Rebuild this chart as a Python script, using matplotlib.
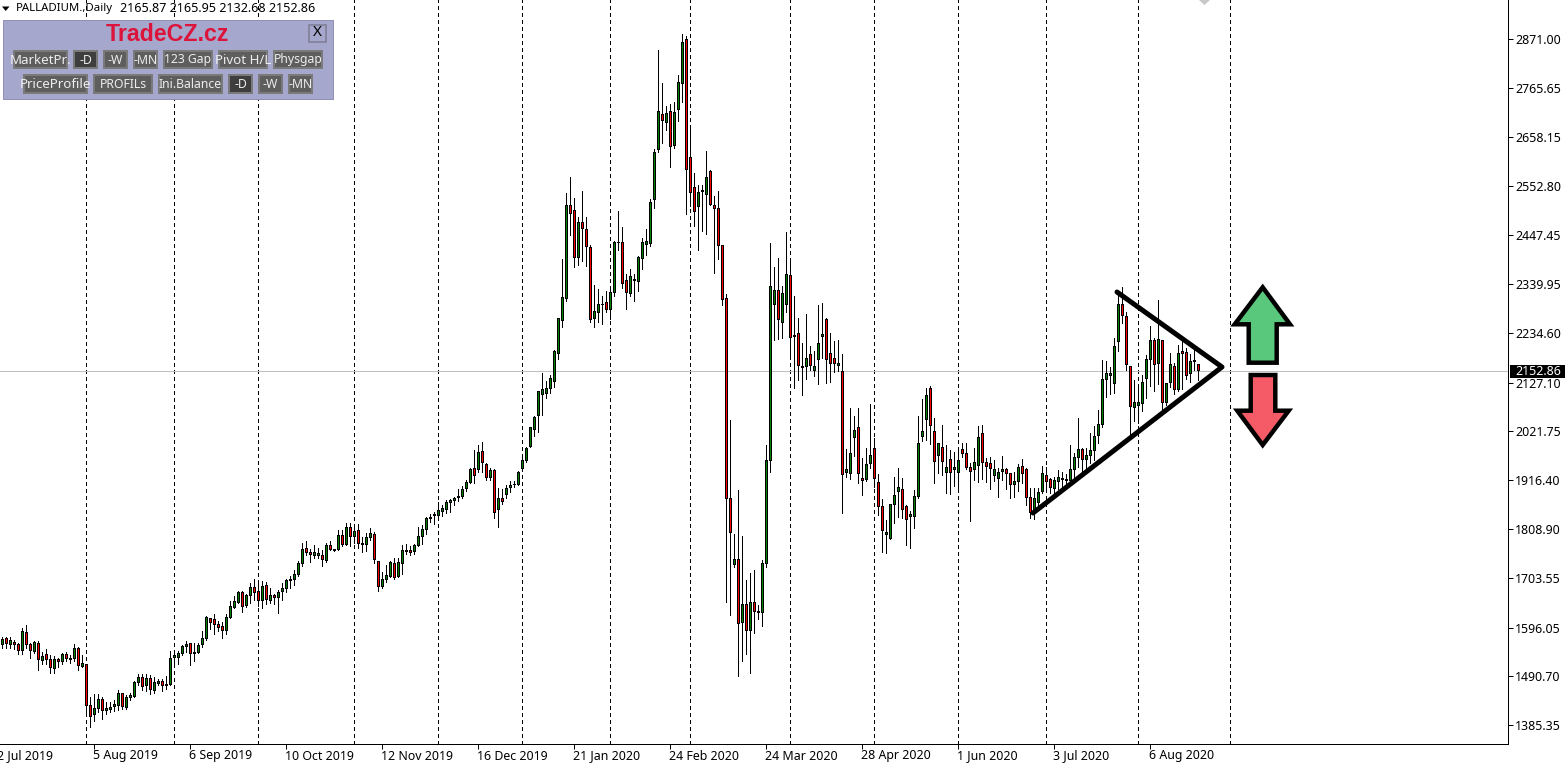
import numpy as np
import matplotlib
matplotlib.use("Agg")
import matplotlib.pyplot as plt
from matplotlib.patches import Rectangle, Polygon

HIGH = [
1575,1575,1575,1569,1562,1595,1601,1564,1568,1567,
1544,1549,1538,1535,1530,1541,1543,1538,1560,1554,
1538,1517,1446,1452,1452,1445,1436,1435,1439,1461,
1455,1450,1454,1480,1495,1495,1495,1493,1490,1486,
1486,1491,1546,1545,1546,1558,1567,1564,1562,1564,
1590,1621,1618,1625,1611,1608,1625,1654,1665,1675,
1676,1670,1692,1701,1692,1697,1694,1683,1670,1677,
1692,1701,1707,1720,1740,1779,1783,1766,1775,1768,
1764,1779,1783,1767,1807,1807,1822,1822,1818,1820,
1793,1802,1811,1803,1740,1716,1731,1740,1746,1746,
1775,1777,1774,1777,1814,1818,1835,1842,1846,1868,
1862,1873,1875,1880,1897,1902,1917,1943,1980,1991,
1998,1952,1941,1939,1898,1896,1905,1914,1914,1935,
1972,1987,2031,2055,2109,2148,2130,2143,2198,2267,
2394,2537,2572,2526,2485,2541,2485,2425,2338,2329,
2314,2325,2335,2433,2498,2463,2363,2374,2363,2400,
2441,2459,2524,2632,2847,2775,2727,2730,2734,2794,
2881,2877,2678,2580,2555,2554,2628,2587,2530,2541,
2424,2319,2046,1799,1894,1795,1699,1715,1721,1645,
1743,1992,2429,2377,2397,2336,2453,2388,2315,2267,
2213,2276,2206,2195,2295,2299,2267,2234,2217,2219,
2189,1983,2072,2055,2072,1964,1985,2081,2007,1929,
1875,1829,1864,1922,1942,1920,1862,1849,1894,2055,
2091,2115,2120,2050,1996,2035,1992,1981,1977,1983,
1996,1996,1953,1985,2033,2035,1964,1966,1959,1942,
1968,1942,1931,1933,1951,1961,1942,1899,1899,1899,
1946,1944,1920,1922,1938,1933,1929,1992,1974,2050,
1985,1985,2018,2033,2068,2176,2174,2161,2224,2321,
2334,2280,2161,2133,2117,2143,2187,2250,2224,2306,
2219,2126,2191,2169,2208,2219,2202,2189,2200,2165.95]

LOW = [
1552,1552,1552,1551,1540,1540,1553,1531,1542,1505,
1517,1517,1499,1497,1511,1518,1525,1520,1525,1505,
1511,1407,1382,1393,1414,1399,1410,1414,1416,1418,
1419,1421,1440,1447,1472,1461,1458,1453,1454,1471,
1460,1463,1471,1511,1518,1538,1543,1516,1525,1541,
1555,1569,1594,1583,1590,1573,1583,1618,1638,1649,
1631,1640,1649,1656,1643,1638,1647,1650,1647,1629,
1655,1673,1681,1688,1707,1730,1754,1739,1748,1748,
1730,1738,1764,1762,1765,1774,1776,1774,1779,1769,
1759,1763,1787,1737,1676,1681,1694,1705,1701,1705,
1713,1755,1753,1755,1772,1778,1798,1824,1821,1832,
1839,1844,1847,1862,1871,1878,1893,1909,1910,1933,
1933,1916,1915,1833,1815,1863,1878,1891,1900,1905,
1939,1956,1988,2012,2020,2057,2094,2104,2117,2178,
2248,2304,2447,2377,2382,2391,2380,2259,2248,2259,
2254,2280,2265,2315,2415,2332,2287,2314,2304,2325,
2374,2404,2423,2506,2627,2646,2675,2594,2636,2694,
2734,2491,2510,2465,2415,2456,2449,2511,2365,2395,
2296,1652,1624,1728,1492,1524,1539,1498,1585,1615,
1600,1728,1933,2219,2221,2224,2280,2187,2115,2133,
2100,2135,2154,2141,2124,2180,2126,2128,2150,2152,
1845,1922,1918,1968,1910,1884,1914,1942,1901,1840,
1760,1758,1788,1823,1836,1834,1775,1769,1812,1877,
2000,2003,1994,1910,1931,1927,1888,1886,1903,1899,
1966,1940,1827,1916,1912,1918,1912,1897,1914,1879,
1916,1897,1877,1879,1892,1910,1862,1834,1831,1862,
1888,1897,1888,1888,1897,1899,1901,1910,1920,1944,
1931,1942,1953,1959,1996,2031,2096,2102,2104,2195,
2256,2154,2016,2044,2039,2065,2094,2120,2109,2124,
2068,2078,2117,2102,2109,2113,2135,2128,2154,2132.68]

OPEN = [
1559,1573,1559,1564,1560,1547,1586,1560,1544,1562,
1525,1538,1528,1508,1528,1523,1538,1528,1530,1551,
1512,1517,1428,1408,1421,1441,1416,1420,1425,1428,
1454,1424,1444,1447,1477,1489,1470,1486,1460,1475,
1480,1471,1473,1532,1532,1540,1556,1562,1541,1543,
1560,1573,1616,1614,1603,1599,1590,1618,1640,1650,
1673,1645,1666,1683,1675,1655,1688,1655,1666,1662,
1675,1681,1699,1701,1712,1735,1768,1759,1752,1753,
1753,1741,1774,1763,1766,1796,1777,1813,1794,1807,
1777,1777,1792,1798,1740,1686,1701,1707,1735,1707,
1735,1761,1764,1761,1774,1794,1809,1833,1840,1839,
1848,1852,1868,1872,1878,1881,1898,1911,1941,1939,
1978,1950,1922,1937,1852,1876,1885,1900,1906,1906,
1941,1959,1989,2026,2055,2102,2104,2115,2130,2191,
2261,2310,2511,2500,2397,2474,2459,2420,2265,2278,
2295,2301,2286,2322,2430,2431,2348,2320,2348,2346,
2396,2426,2428,2524,2631,2708,2690,2714,2641,2719,
2775,2870,2615,2550,2509,2541,2535,2584,2511,2504,
2424,2310,1875,1734,1743,1608,1647,1591,1650,1632,
1628,1736,1959,2295,2327,2258,2297,2358,2227,2234,
2161,2161,2187,2154,2176,2226,2263,2191,2180,2163,
2152,1933,1931,2009,2029,1920,1918,1951,1985,1910,
1858,1799,1790,1862,1890,1896,1858,1836,1836,1881,
2011,2048,2115,2022,1968,1987,1933,1961,1938,1933,
1981,1974,1944,1938,1948,2016,1953,1951,1925,1920,
1935,1938,1929,1907,1912,1946,1938,1879,1845,1868,
1890,1925,1916,1897,1912,1918,1914,1914,1938,1964,
1981,1961,1970,1979,2013,2037,2133,2143,2126,2215,
2297,2269,2161,2072,2078,2081,2135,2178,2217,2169,
2217,2083,2128,2161,2111,2195,2193,2146,2172,2165.87]

CLOSE = [
1571,1561,1569,1559,1547,1588,1560,1547,1564,1527,
1534,1527,1510,1528,1523,1538,1530,1530,1551,1515,
1519,1428,1403,1421,1441,1417,1421,1424,1430,1454,
1426,1445,1450,1477,1489,1469,1486,1463,1478,1480,
1471,1474,1530,1536,1541,1556,1560,1541,1543,1558,
1573,1618,1608,1603,1597,1590,1618,1642,1653,1673,
1642,1666,1683,1673,1655,1686,1657,1666,1662,1673,
1681,1699,1701,1712,1735,1766,1759,1754,1759,1757,
1743,1774,1766,1766,1796,1777,1813,1794,1805,1779,
1778,1792,1800,1744,1686,1701,1709,1738,1705,1738,
1764,1764,1759,1774,1794,1809,1833,1835,1842,1850,
1855,1868,1872,1876,1881,1896,1911,1939,1926,1976,
1954,1922,1937,1845,1876,1870,1898,1904,1907,1932,
1959,1985,2029,2052,2107,2111,2115,2135,2195,2265,
2312,2511,2493,2397,2474,2460,2422,2264,2281,2296,
2296,2286,2322,2431,2431,2342,2322,2357,2350,2398,
2431,2433,2517,2626,2714,2695,2710,2639,2712,2777,
2864,2589,2539,2498,2539,2543,2571,2513,2504,2424,
2307,1875,1803,1743,1606,1647,1591,1650,1632,1628,
1736,1959,2336,2327,2263,2319,2360,2224,2229,2165,
2160,2180,2163,2161,2211,2230,2178,2169,2169,2169,
1927,1938,1974,2024,1929,1914,1949,1970,1920,1858,
1806,1803,1862,1883,1899,1853,1831,1842,1881,1996,
2022,2100,2035,1955,1994,1955,1942,1933,1942,1959,
1974,1942,1935,1953,2007,1953,1946,1940,1938,1933,
1938,1929,1907,1912,1942,1931,1877,1845,1875,1888,
1931,1912,1899,1914,1922,1920,1916,1938,1964,1983,
1961,1968,1979,2011,2037,2133,2146,2146,2206,2297,
2273,2167,2076,2083,2083,2128,2176,2219,2167,2221,
2083,2126,2167,2111,2191,2191,2143,2172,2174,2152.86]

PRICE_TICKS = [2871.00,2765.65,2658.15,2552.80,2447.45,2339.95,2234.60,2127.10,
               2021.75,1916.40,1808.90,1703.55,1596.05,1490.70,1385.35]
DATE_BARS = [-1,23,47,71,95,119,143,167,191,215,239,263,287]
DATE_LABELS = ["2 Jul 2019","5 Aug 2019","6 Sep 2019","10 Oct 2019","12 Nov 2019","16 Dec 2019",
               "21 Jan 2020","24 Feb 2020","24 Mar 2020","28 Apr 2020","1 Jun 2020","3 Jul 2020","6 Aug 2020"]
PERIOD_BARS = [21,43,64,88,109,130,152,172,197,218,239,261,284,307]
LAST_PRICE = 2152.86
HEADER_NAME = "PALLADIUM.,Daily"
HEADER_VALUES = "2165.87 2165.95 2132.68 2152.86"

W, H = 1565, 763
AXW, AXH = 1508, 744
FONT = "Noto Sans"
FS = 8.9
PX = 0.72
PRICE_PER_PX = 2.1657
fig = plt.figure(figsize=(W/100, H/100), dpi=100, facecolor="white")
ax = fig.add_axes([0, 1-AXH/H, AXW/W, AXH/H])
ax.set_xlim(-0.55, (AXW-2.2)/4)
ax.set_ylim(2955.5-PRICE_PER_PX*AXH, 2955.5)
for s in ("top", "left"):
    ax.spines[s].set_visible(False)
for s in ("right", "bottom"):
    ax.spines[s].set_linewidth(PX)
    ax.spines[s].set_color("black")

x = np.arange(len(CLOSE))
o, c, hi, lo = map(np.array, (OPEN, CLOSE, HIGH, LOW))
for b in PERIOD_BARS:
    ax.axvline(b, color="black", lw=PX, ls=(0, (3, 3)), zorder=1, antialiased=False)
ax.axhline(LAST_PRICE, color="#C0C0C0", lw=PX, zorder=1.5, antialiased=False)
ax.vlines(x, lo, hi, colors="black", lw=PX, zorder=2, antialiased=False)

bot, top = np.minimum(o, c), np.maximum(o, c)
half = PRICE_PER_PX/2
ax.bar(x, top-bot+2*half, bottom=bot-half, width=0.75, color="black", linewidth=0, zorder=3, antialiased=False)
cols = np.where(c >= o, "#008000", "#FF0000")
inner = np.clip(top-bot-2*half, 0, None)
ax.bar(x, inner, bottom=bot+half, width=0.25, color=cols, linewidth=0, zorder=4, antialiased=False)

ax.yaxis.tick_right()
ax.set_yticks(PRICE_TICKS)
ax.set_yticklabels([f"{v:.2f}" for v in PRICE_TICKS], fontsize=FS, family=FONT)
ax.tick_params(axis="y", length=3.6, width=PX, pad=1.5)
ax.set_xticks([b for b in DATE_BARS if b >= 0])
ax.set_xticklabels([])
ax.tick_params(axis="x", length=3.6, width=PX)
for b, lab in zip(DATE_BARS, DATE_LABELS):
    ax.annotate(lab, xy=(b, 0), xycoords=("data", "axes fraction"), xytext=(-1, -12),
                textcoords="offset pixels", ha="left", va="center", fontsize=FS,
                family=FONT, annotation_clip=False)

ov = fig.add_axes([0, 0, 1, 1], zorder=10)
ov.set_xlim(0, W); ov.set_ylim(H, 0); ov.axis("off"); ov.patch.set_alpha(0)
price_y = (2955.5-LAST_PRICE)/PRICE_PER_PX
ov.add_patch(Rectangle((1510, price_y-5.5), 55, 12.5, fc="black", ec="none"))
ov.text(1515, price_y+0.5, f"{LAST_PRICE:.2f}", color="white", fontsize=FS, family=FONT, va="center", ha="left")

ov.add_patch(Polygon([(2, 6.5), (9.5, 6.5), (5.75, 11)], closed=True, fc="black", ec="none"))
ov.text(16, 8, HEADER_NAME, fontsize=8.2, family=FONT, va="center", ha="left", color="black")
ov.text(120, 8, HEADER_VALUES, fontsize=9.05, family=FONT, va="center", ha="left", color="black")

ov.add_patch(Polygon([(1199, 0), (1210, 0), (1204.5, 5)], closed=True, fc="#C8C8C8", ec="none"))

ov.plot([1033, 1222, 1117], [513, 367, 292], color="black", lw=3.6, solid_capstyle="round",
        solid_joinstyle="round")

up = [(1262.7, 287.3), (1290, 324.3), (1276.7, 324.3), (1276.7, 362.7), (1248.7, 362.7), (1248.7, 324.3), (1234.7, 324.3)]
dn = [(1250.7, 375), (1275.3, 375), (1275.3, 410.7), (1288.7, 410.7), (1262.7, 445), (1237.3, 410.7), (1250.7, 410.7)]
ov.add_patch(Polygon(up, closed=True, fc="#5AC87C", ec="black", lw=3.2, joinstyle="miter"))
ov.add_patch(Polygon(dn, closed=True, fc="#F45B66", ec="black", lw=3.2, joinstyle="miter"))

ov.add_patch(Rectangle((3, 19.5), 330, 79.5, fc="#A5A8CC", ec="#8E90B8", lw=PX))
ov.text(167, 34.5, "TradeCZ.cz", color="#DC143C", fontsize=16.7, family="Liberation Sans",
        fontweight="bold", ha="center", va="center")
ov.add_patch(Rectangle((308.5, 24.5), 17, 17, fc="#A5A8CC", ec="#808098", lw=1.2))
ov.text(317, 33, "X", color="black", fontsize=11, family=FONT, ha="center", va="center")
ROW1 = [("MarketPr.", 13, 68, 0, 9.6), ("-D", 73, 98, 1, 8.8), ("-W", 103, 128, 0, 8.8), ("-MN", 133, 158, 0, 8.8),
        ("123 Gap", 163, 213, 0, 8.8), ("Pivot H/L", 218, 268, 0, 9.6), ("Physgap", 273, 323, 0, 8.8)]
ROW2 = [("PriceProfile", 23, 88, 0, 9.6), ("PROFILs", 93, 153, 0, 8.8), ("Ini.Balance", 158, 223, 0, 8.8),
        ("-D", 228, 253, 1, 8.8), ("-W", 258, 283, 0, 8.8), ("-MN", 288, 313, 0, 8.8)]
for row, y0, y1 in ((ROW1, 50, 69), (ROW2, 74, 94)):
    for lab, x0, x1, dark, fs in row:
        ov.add_patch(Rectangle((x0, y0), x1-x0, y1-y0, fc="#7A7A7A", ec="none"))
        ov.add_patch(Rectangle((x0+2, y0+2), x1-x0-4, y1-y0-4, fc="#3E3E3E" if dark else "#5E5E5E", ec="none"))
        t = ov.text((x0+x1)/2, (y0+y1)/2+0.5, lab, color="#EDEDED", fontsize=fs, family=FONT, ha="center", va="center")
        t.set_clip_path(Rectangle((x0+1, y0), x1-x0-2, y1-y0, transform=ov.transData))

fig.savefig("out.png", dpi=100, facecolor="white")
